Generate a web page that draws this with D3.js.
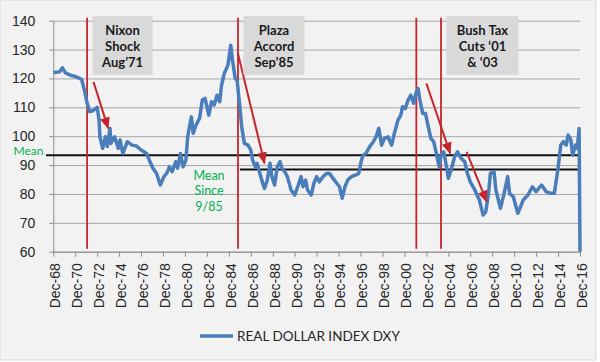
<!DOCTYPE html>
<html>
<head>
<meta charset="utf-8">
<script src="https://cdnjs.cloudflare.com/ajax/libs/d3/7.8.5/d3.min.js"></script>
<style>
  body { margin: 0; background: #fff; }
  svg { display: block; font-family: Lato, "Open Sans", sans-serif; }
</style>
</head>
<body>
<svg width="600" height="362"></svg>
<script>
// Real dollar index DXY
const months = [
  "1968-12","1969-07","1969-10","1970-01","1970-06","1971-01","1971-07","1971-10","1972-01","1972-04",
  "1972-07","1972-12","1973-02","1973-03","1973-06","1973-09","1973-11","1974-02","1974-03","1974-07",
  "1974-11","1975-01","1975-04","1975-09","1976-02","1976-07","1976-12","1977-06","1977-09","1978-01",
  "1978-05","1978-09","1979-01","1979-04","1979-07","1979-10","1980-02","1980-04","1980-07","1980-10",
  "1981-01","1981-03","1981-07","1981-09","1981-12","1982-04","1982-07","1982-10","1983-02","1983-05",
  "1983-08","1983-11","1984-02","1984-04","1984-07","1984-11","1985-02","1985-04","1985-07","1985-09",
  "1985-12","1986-02","1986-05","1986-09","1986-12","1987-02","1987-05","1987-07","1987-10","1988-01",
  "1988-03","1988-06","1988-09","1988-11","1989-02","1989-05","1989-08","1989-10","1990-01","1990-04",
  "1990-08","1990-12","1991-04","1991-07","1991-09","1991-12","1992-02","1992-06","1992-09","1992-12",
  "1993-03","1993-07","1993-11","1994-02","1994-06","1994-10","1995-01","1995-04","1995-07","1995-10",
  "1996-02","1996-07","1996-10","1997-01","1997-03","1997-06","1997-10","1998-02","1998-05","1998-08",
  "1998-11","1999-02","1999-06","1999-10","2000-01","2000-05","2000-08","2000-10","2001-01","2001-04",
  "2001-07","2001-10","2002-01","2002-03","2002-05","2002-08","2002-11","2003-02","2003-05","2003-08",
  "2003-11","2004-02","2004-04","2004-07","2004-10","2004-12","2005-03","2005-07","2005-10","2006-02",
  "2006-06","2006-09","2006-12","2007-05","2007-10","2008-02","2008-05","2008-08","2008-10","2009-02",
  "2009-04","2009-09","2010-01","2010-05","2010-07","2010-11","2011-04","2011-10","2012-03","2012-08",
  "2012-12","2013-06","2013-11","2014-04","2014-08","2014-12","2015-03","2015-06","2015-09","2015-11",
  "2016-02","2016-04","2016-07","2016-09","2016-11","2016-12"
];
const dxy = [
  122, 122.3, 123.7, 122, 121.2, 120.6, 119.7, 116, 111.4, 108.5,
  108.8, 110, 105.6, 99.8, 95.8, 99.8, 96.4, 102.7, 97.5, 99.8,
  95.8, 98.7, 94, 98.1, 96.9, 96.6, 95.2, 94, 91.7, 88.9,
  87.1, 83.1, 86, 87.1, 89.4, 87.7, 91.2, 88.9, 94, 89.4,
  91.7, 99.8, 106.7, 101, 103.8, 106.2, 112.5, 113.1, 107.3, 111.9,
  110.8, 114.2, 111.9, 117.7, 121.7, 124.6, 131.5, 126.3, 120, 119.4,
  110.2, 103.3, 97.5, 96.9, 95.2, 91.7, 89.4, 90.6, 87.1, 83.7,
  81.9, 84.8, 90.6, 86, 83.1, 89.4, 91.2, 88.9, 87.7, 86,
  81.4, 79.6, 83.1, 86, 82.5, 84.8, 81.4, 79.6, 83.7, 86,
  84.2, 86, 87.1, 87.1, 85.4, 83.7, 82.5, 78.5, 82.5, 84.8,
  86, 86.6, 87.1, 91.7, 93.5, 94, 96.4, 98.1, 99.8, 102.7,
  96.9, 99.2, 99.8, 96.9, 101, 105.6, 107.3, 110.2, 109.6, 112.5,
  114.2, 111.4, 115.4, 116.5, 112.5, 107.9, 107.9, 103.3, 99.2, 98.1,
  94, 89.4, 93.5, 94.6, 89.4, 85.4, 88.3, 92.9, 94.6, 92.3,
  91.2, 87, 84.2, 81.4, 77.9, 72.7, 73.9, 80.2, 87.1, 87.7,
  81.4, 75, 80.2, 86, 80.2, 79.1, 73.3, 77.9, 79.6, 82.5,
  80.8, 83.1, 80.8, 80.2, 80.2, 88.9, 96.9, 98.1, 96.9, 100.4,
  98.7, 93.5, 96.9, 95.8, 102.7, 60
];

const xTicks = ["1968-12","1970-12","1972-12","1974-12","1976-12","1978-12","1980-12","1982-12",
  "1984-12","1986-12","1988-12","1990-12","1992-12","1994-12","1996-12","1998-12","2000-12",
  "2002-12","2004-12","2006-12","2008-12","2010-12","2012-12","2014-12","2016-12"];
const yTicks = [60, 70, 80, 90, 100, 110, 120, 130, 140];

// Means
const meanAll = { from: "1968-04", to: "2017-01", value: 93.4 };
const meanSince85 = { from: "1985-12", to: "2017-01", value: 88.5 };

// Event lines and boxes
const eventLines = ["1972-01", "1985-10", "2002-01", "2004-04"];
const eventBoxes = [
  { at: "1972-01", lines: ["Nixon", "Shock", "Aug\u201971"], w: 60 },
  { at: "1985-10", lines: ["Plaza", "Accord", "Sep\u201985"], w: 61 },
  { at: "2004-04", lines: ["Bush Tax", "Cuts \u201801", "& \u201803"], w: 72 }
];
// Arrows: [start month, start value, end month, end value]
const arrows = [
  ["1972-08", 118.8, "1973-12", 102.7],
  ["1985-10", 128.6, "1988-03", 90.6],
  ["2002-12", 118.3, "2005-02", 94],
  ["2006-08", 94.6, "2008-06", 77.3]
];

const parse = d3.timeParse("%Y-%m");
const data = months.map((m, i) => ({ date: parse(m), value: dxy[i] }));

const svg = d3.select("svg");
const red = "#c4262e";
const plot = { left: 53.3, right: 580, top: 20.7, bottom: 251.7 };

// Background
svg.append("rect")
   .attr("x", 0).attr("y", 0)
   .attr("width", 596).attr("height", 360)
   .attr("fill", "#f2f2f2")
   .attr("stroke", "#d9d9d9");

// Scales
const x = d3.scaleTime()
            .domain([parse("1968-12"), parse("2016-12")])
            .range([plot.left, plot.right]);
const y = d3.scaleLinear()
            .domain([60, 140])
            .range([plot.bottom, plot.top]);

// Gridlines
svg.append("g")
   .attr("transform", `translate(${plot.left}, 0)`)
   .call(d3.axisLeft(y).tickValues(yTicks).tickSize(-(plot.right - plot.left)).tickFormat(""))
   .call(g => g.select(".domain").remove())
   .call(g => g.selectAll("line").attr("stroke", "#a6a6a6"));

// Y axis
svg.append("g")
   .attr("transform", `translate(${plot.left}, 0)`)
   .call(d3.axisLeft(y).tickValues(yTicks).tickSize(4).tickSizeOuter(0).tickPadding(14))
   .call(g => g.select(".domain").attr("stroke", "#8c8c8c"))
   .call(g => g.selectAll("line").attr("stroke", "#8c8c8c"))
   .call(g => g.selectAll("text")
               .attr("fill", "#262626")
               .style("font-size", "14px"));

// X axis
svg.append("g")
   .attr("transform", `translate(0, ${plot.bottom})`)
   .call(d3.axisBottom(x).tickValues(xTicks.map(parse))
           .tickFormat(d3.timeFormat("%b-%y")).tickSize(5).tickSizeOuter(0))
   .call(g => g.select(".domain").attr("stroke", "#8c8c8c"))
   .call(g => g.selectAll("line").attr("stroke", "#8c8c8c"))
   .call(g => g.selectAll("text")
               .attr("transform", "rotate(-90)")
               .attr("text-anchor", "end")
               .attr("x", -11.5)
               .attr("y", 1.5)
               .attr("dy", "0.35em")
               .attr("fill", "#262626")
               .style("font-size", "14px"));

// Mean lines
[meanAll, meanSince85].forEach(m => {
  svg.append("line")
     .attr("x1", x(parse(m.from))).attr("x2", x(parse(m.to)))
     .attr("y1", y(m.value)).attr("y2", y(m.value))
     .attr("stroke", "#111")
     .attr("stroke-width", 2);
});

svg.append("text")
   .attr("x", 28.5).attr("y", y(meanAll.value) - 4)
   .attr("dy", "0.3em")
   .attr("text-anchor", "middle")
   .attr("fill", "#00b050")
   .style("font-size", "12px")
   .text("Mean");

svg.append("text")
   .attr("text-anchor", "middle")
   .attr("fill", "#00b050")
   .style("font-size", "12.5px")
   .selectAll("tspan")
   .data(["Mean", "Since", "9/85"])
   .enter()
   .append("tspan")
   .attr("x", 209)
   .attr("y", (d, i) => 179.5 + i * 15.5)
   .text(d => d);

// Event vertical lines
svg.selectAll(".event")
   .data(eventLines)
   .enter()
   .append("line")
   .attr("class", "event")
   .attr("x1", d => x(parse(d))).attr("x2", d => x(parse(d)))
   .attr("y1", y(141)).attr("y2", y(61))
   .attr("stroke", red)
   .attr("stroke-width", 1.8);

// Dollar line
svg.append("path")
   .datum(data)
   .attr("fill", "none")
   .attr("stroke", "#4a7ebb")
   .attr("stroke-width", 3.5)
   .attr("stroke-linejoin", "round")
   .attr("d", d3.line().x(d => x(d.date)).y(d => y(d.value)));

// Arrows
svg.append("defs").append("marker")
   .attr("id", "head")
   .attr("markerUnits", "userSpaceOnUse")
   .attr("markerWidth", 12).attr("markerHeight", 10)
   .attr("refX", 11).attr("refY", 5)
   .attr("orient", "auto")
   .append("path")
   .attr("d", "M0,0 L12,5 L0,10 Z")
   .attr("fill", red);

svg.selectAll(".arrow")
   .data(arrows)
   .enter()
   .append("line")
   .attr("class", "arrow")
   .attr("x1", d => x(parse(d[0]))).attr("y1", d => y(d[1]))
   .attr("x2", d => x(parse(d[2]))).attr("y2", d => y(d[3]))
   .attr("stroke", red)
   .attr("stroke-width", 2)
   .attr("marker-end", "url(#head)");

// Annotation boxes
const boxes = svg.selectAll(".box")
   .data(eventBoxes)
   .enter()
   .append("g")
   .attr("class", "box")
   .attr("transform", d => `translate(${x(parse(d.at)) + 5.5}, 16)`);

boxes.append("rect")
     .attr("width", d => d.w)
     .attr("height", 59)
     .attr("fill", "#d9d9d9");

boxes.append("text")
     .attr("text-anchor", "middle")
     .attr("fill", "#1a1a1a")
     .style("font-size", "13px")
     .style("font-weight", "bold")
     .selectAll("tspan")
     .data(d => d.lines.map(t => ({ t, w: d.w })))
     .enter()
     .append("tspan")
     .attr("x", d => d.w / 2)
     .attr("y", (d, i) => 19 + i * 15.8)
     .text(d => d.t);

// Legend
svg.append("line")
   .attr("x1", 200).attr("x2", 233)
   .attr("y1", 336).attr("y2", 336)
   .attr("stroke", "#4a7ebb")
   .attr("stroke-width", 3.5);

svg.append("text")
   .attr("x", 237).attr("y", 336)
   .attr("dy", "0.35em")
   .attr("fill", "#262626")
   .style("font-size", "13.5px")
   .text("REAL DOLLAR INDEX DXY");
</script>
</body>
</html>
